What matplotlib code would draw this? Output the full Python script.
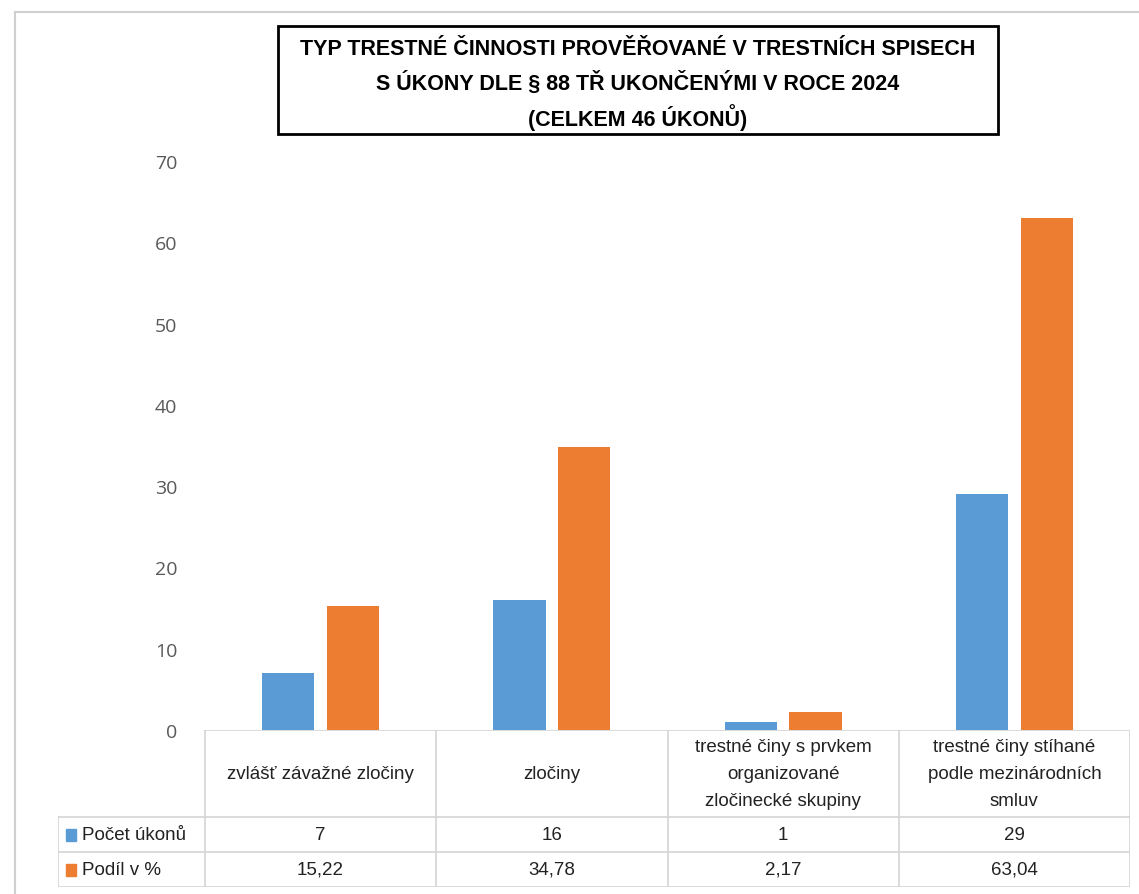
import matplotlib.pyplot as plt
from matplotlib.patches import Rectangle
from matplotlib.lines import Line2D

categories = [
    "zvlášť závažné zločiny",
    "zločiny",
    "trestné činy s prvkem\norganizované\nzločinecké skupiny",
    "trestné činy stíhané\npodle mezinárodních\nsmluv",
]
pocet = [7, 16, 1, 29]
podil = [15.22, 34.78, 2.17, 63.04]
series_names = ["Počet úkonů", "Podíl v %"]
colors = ["#5B9BD5", "#ED7D31"]
yticks = [0, 10, 20, 30, 40, 50, 60, 70]

title_lines = ["TYP TRESTNÉ ČINNOSTI PROVĚŘOVANÉ V TRESTNÍCH SPISECH",
               "S ÚKONY DLE § 88 TŘ UKONČENÝMI V ROCE 2024",
               "(CELKEM 46 ÚKONŮ)"]

W, H = 1139, 895
fig = plt.figure(figsize=(W / 100, H / 100), dpi=100)


def box(l, t, r, b):
    return [l / W, 1 - b / H, (r - l) / W, (b - t) / H]


# frame lines of the screenshot
fig.add_artist(Line2D([15 / W, 1], [1 - 13 / H, 1 - 13 / H], color="#d0d0d0", lw=1.5))
fig.add_artist(Line2D([15 / W, 15 / W], [0, 1 - 13 / H], color="#d0d0d0", lw=1.5))

# bars
ax = fig.add_axes(box(205, 162, 1130, 731))
x = range(len(categories))
bw = 0.225
ax.bar([i - 0.14 for i in x], pocet, bw, color=colors[0])
ax.bar([i + 0.14 for i in x], podil, bw, color=colors[1])
ax.set_xlim(-0.5, 3.5)
ax.set_ylim(0, 70)
ax.set_yticks(yticks)
ax.set_xticks([])
ax.tick_params(axis="y", length=0, pad=20, labelsize=14, labelcolor="#595959")
for lab in ax.get_yticklabels():
    lab.set_fontfamily("Open Sans")
for s in ax.spines.values():
    s.set_visible(False)

# data table
tax = fig.add_axes(box(58, 731, 1130, 888))
left = -0.5 - 147 / 231.25
tax.set_xlim(left, 3.5)
tax.set_ylim(157, 0)
tax.axis("off")
lc = "#d4d4d4"
rows = [0, 87, 122, 157]
tax.plot([-0.5, 3.5], [0, 0], color=lc, lw=1.2)
for yy in rows[1:]:
    tax.plot([left, 3.5], [yy, yy], color=lc, lw=1.2)
tax.plot([left, left], [87, 157], color=lc, lw=1.2)
for i in range(len(categories) + 1):
    tax.plot([i - 0.5, i - 0.5], [0, 157], color=lc, lw=1.2)

fnt = "Liberation Sans"
fs = 13.5
for i, c in enumerate(categories):
    tax.text(i, 43.5, c, ha="center", va="center", fontsize=fs,
             family=fnt, color="#222222", linespacing=1.8)
for r, (vals, name, col) in enumerate(zip([pocet, podil], series_names, colors)):
    yc = (rows[r + 1] + rows[r + 2]) / 2
    tax.add_patch(Rectangle((left + 0.035, yc - 6), 0.045, 12, color=col))
    tax.text(left + 0.105, yc, name, ha="left", va="center", fontsize=fs,
             family=fnt, color="#222222")
    for i, v in enumerate(vals):
        s = f"{v:.2f}".replace(".", ",") if isinstance(v, float) else str(v)
        tax.text(i, yc, s, ha="center", va="center", fontsize=fs,
                 family=fnt, color="#222222")

# title box
fig.add_artist(Rectangle((278 / W, 1 - 135 / H), 720 / W, 108 / H,
                         fill=False, edgecolor="black", lw=2,
                         transform=fig.transFigure))
for k, line in enumerate(title_lines):
    fig.text(638 / W, 1 - (47 + 34 * k) / H, line, ha="center",
             va="center_baseline", fontsize=15.5, fontweight="bold",
             family="Liberation Sans")

fig.savefig("out.png", dpi=100)
